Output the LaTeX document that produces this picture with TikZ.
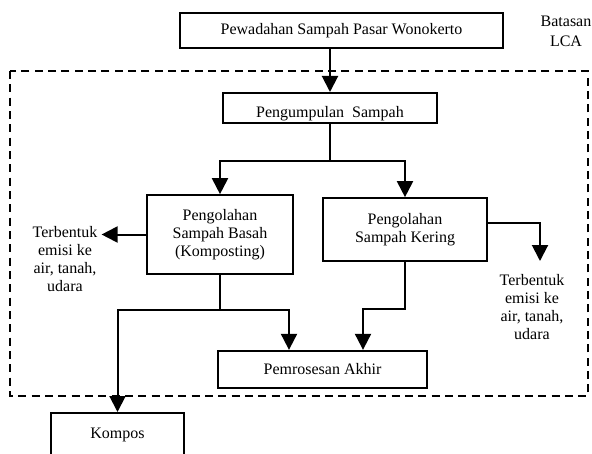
\documentclass[tikz,border=0pt]{standalone}
\usepackage{fontspec}
\setmainfont{Liberation Serif}
\usetikzlibrary{positioning,arrows.meta}

\begin{document}
\begin{tikzpicture}[x=0.75pt,y=-0.75pt,>={Triangle[length=12pt,width=12pt]},
  every node/.style={font=\fontsize{12}{13.5}\selectfont},
  kotak/.style={draw,line width=1.5pt,inner sep=0pt,align=center},
  panah/.style={->,line width=1.5pt},
  ket/.style={align=center,inner sep=3pt}]
\clip (0,0) rectangle (592,453);
% batas sistem LCA
\draw[line width=1.5pt,dash pattern=on 6pt off 4pt] (10,71) rectangle (588,396);
\node[align=center,inner sep=0pt,font=\fontsize{12}{15}\selectfont] (batas) at (566,31) {Batasan\\LCA};

\node[kotak,minimum width=242pt,minimum height=26pt] (wadah) at (341.5,30.5) {Pewadahan Sampah Pasar Wonokerto};
\node[kotak,minimum width=160.5pt,minimum height=22.5pt,text height=13.5pt,text depth=0pt] (kumpul) at (330,108) {Pengumpulan\ \ Sampah};
\node[kotak,minimum width=109.5pt,minimum height=59pt] (basah) at (220,234.5) {Pengolahan\\Sampah Basah\\(Komposting)};
\node[kotak,minimum width=123pt,minimum height=47pt] (kering) at (405,229.5) {Pengolahan\\Sampah Kering};
\node[kotak,minimum width=157pt,minimum height=28pt] (akhir) at (322.5,369.5) {Pemrosesan Akhir};
\node[kotak,minimum width=100pt,minimum height=33pt] (kompos) at (117.5,435) {Kompos};

% emisi
\node[ket,anchor=north] (emisiL) at (65,222) {Terbentuk\\emisi ke\\air, tanah,\\udara};
\node[ket,anchor=north] (emisiR) at (532,270) {Terbentuk\\emisi ke\\air, tanah,\\udara};
\coordinate (tipR) at (540,261);

% alur
\draw[panah] (wadah.south -| kumpul.north) -- (kumpul.north);
\draw[panah] (kumpul.south) -- ++(0,37) -| (basah.north);
\draw[panah] (kumpul.south) -- ++(0,37) -| (kering.north);
\draw[panah] (basah.west) -- (basah.west -| emisiL.east);
\draw[panah] ([yshift=5pt]kering.east) -| (tipR);
\draw[panah] (kering.south) -- ++(0,47) -| (363,0 |- akhir.north);
\draw[panah] (basah.south) -- ++(0,35) -| (289,0 |- akhir.north);
\draw[panah] (basah.south) -- ++(0,35) -| (kompos.north);
\end{tikzpicture}
\end{document}
